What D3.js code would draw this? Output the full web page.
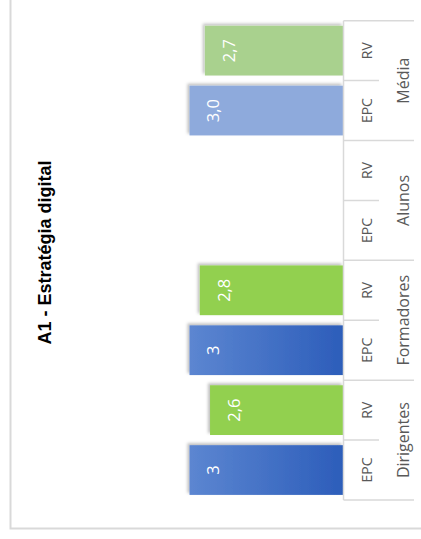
<!DOCTYPE html>
<html><head><meta charset="utf-8">
<script src="https://cdn.jsdelivr.net/npm/d3@7"></script>
<style>html,body{margin:0;padding:0;background:#fff;}svg{display:block;}</style>
</head><body>
<script>
const title = "A1 - Estratégia digital";
const groups = ["Dirigentes", "Formadores", "Alunos", "Média"];
const series = ["EPC", "RV"];
const epcValues = [3, 3, null, 3.0];
const rvValues = [2.6, 2.8, null, 2.7];
const epcLabels = ["3", "3", "", "3,0"];
const rvLabels = ["2,6", "2,8", "", "2,7"];

const W = 421, H = 539;
const svg = d3.select("body").append("svg").attr("width", W).attr("height", H);
const defs = svg.append("defs");
const grad = defs.append("linearGradient").attr("id", "gEPC").attr("x1", "0%").attr("x2", "100%").attr("y1", "0%").attr("y2", "0%");
grad.append("stop").attr("offset", "0%").attr("stop-color", "#5c86d1");
grad.append("stop").attr("offset", "100%").attr("stop-color", "#2c5dba");
const f = defs.append("filter").attr("id", "sh").attr("x", "-20%").attr("y", "-20%").attr("width", "140%").attr("height", "140%");
f.append("feDropShadow").attr("dx", -2).attr("dy", -2).attr("stdDeviation", 1.6).attr("flood-color", "#000").attr("flood-opacity", 0.25);

// frame
svg.append("path").attr("d", `M10.5,0 V528.5 H${W}`).attr("fill", "none").attr("stroke", "#d9d9d9").attr("stroke-width", 2);

// rows top->bottom
const rows = [];
for (let g = groups.length - 1; g >= 0; g--) {
  rows.push({group: groups[g], s: "RV", gi: g, v: rvValues[g], label: rvLabels[g]});
  rows.push({group: groups[g], s: "EPC", gi: g, v: epcValues[g], label: epcLabels[g]});
}
const keys = rows.map(r => r.group + "|" + r.s);
const y = d3.scaleBand().domain(keys).range([20.7, 500]).paddingInner(0.17).paddingOuter(0.085);
const x = d3.scaleLinear().domain([0, 3.5]).range([343.5, 343.5 - 154 * 3.5 / 3]);

function fillFor(r) {
  if (r.group === "Média") return r.s === "EPC" ? "#8eaadc" : "#a9d18e";
  return r.s === "EPC" ? "url(#gEPC)" : "#92d050";
}

const bars = rows.filter(r => r.v != null);
svg.append("g").selectAll("rect").data(bars).join("rect")
  .attr("x", d => x(d.v)).attr("y", d => y(d.group + "|" + d.s))
  .attr("width", d => x(0) - x(d.v)).attr("height", y.bandwidth())
  .attr("fill", fillFor).attr("filter", "url(#sh)");

svg.append("g").selectAll("text").data(bars).join("text")
  .attr("transform", d => `translate(${x(d.v) + 24},${y(d.group + "|" + d.s) + y.bandwidth() / 2}) rotate(-90)`)
  .attr("text-anchor", "middle").attr("dy", "0.35em")
  .attr("font-family", "'Open Sans', sans-serif").attr("font-size", 16.5).attr("fill", "#fff")
  .text(d => d.label);

// category axis
const ax = svg.append("g").attr("stroke", "#d9d9d9").attr("stroke-width", 1.5);
ax.append("line").attr("x1", 343.5).attr("x2", 343.5).attr("y1", 20.7).attr("y2", 500);
const step = y.step();
const boundaries = [];
groups.forEach((g, i) => {
  const top = y(g + "|RV") - y.paddingOuter() * step;
  boundaries.push({yy: top, long: true});
  boundaries.push({yy: top + step, long: false});
});
boundaries.push({yy: 500, long: true});
ax.selectAll("line.t").data(boundaries).join("line").attr("class", "t")
  .attr("x1", 343.5).attr("x2", d => d.long ? 414 : 379)
  .attr("y1", d => d.yy).attr("y2", d => d.yy);

svg.append("g").selectAll("text").data(rows).join("text")
  .attr("transform", d => `translate(367,${y(d.group + "|" + d.s) + y.bandwidth() / 2}) rotate(-90)`)
  .attr("text-anchor", "middle").attr("dy", "0.35em")
  .attr("font-family", "'Open Sans', sans-serif").attr("font-size", 14).attr("fill", "#595959")
  .text(d => d.s);

svg.append("g").selectAll("text").data(groups).join("text")
  .attr("transform", g => `translate(403,${y(g + "|RV") - y.paddingOuter() * step + step}) rotate(-90)`)
  .attr("text-anchor", "middle").attr("dy", "0.35em")
  .attr("font-family", "'Open Sans', sans-serif").attr("font-size", 16).attr("fill", "#595959")
  .text(g => g);

svg.append("text")
  .attr("transform", `translate(45,${(160 + 345) / 2}) rotate(-90)`)
  .attr("text-anchor", "middle").attr("dy", "0.35em")
  .attr("font-family", "'Liberation Sans', Arial, sans-serif").attr("font-weight", "bold").attr("font-size", 18).attr("fill", "#000")
  .text(title);
</script>
</body></html>
